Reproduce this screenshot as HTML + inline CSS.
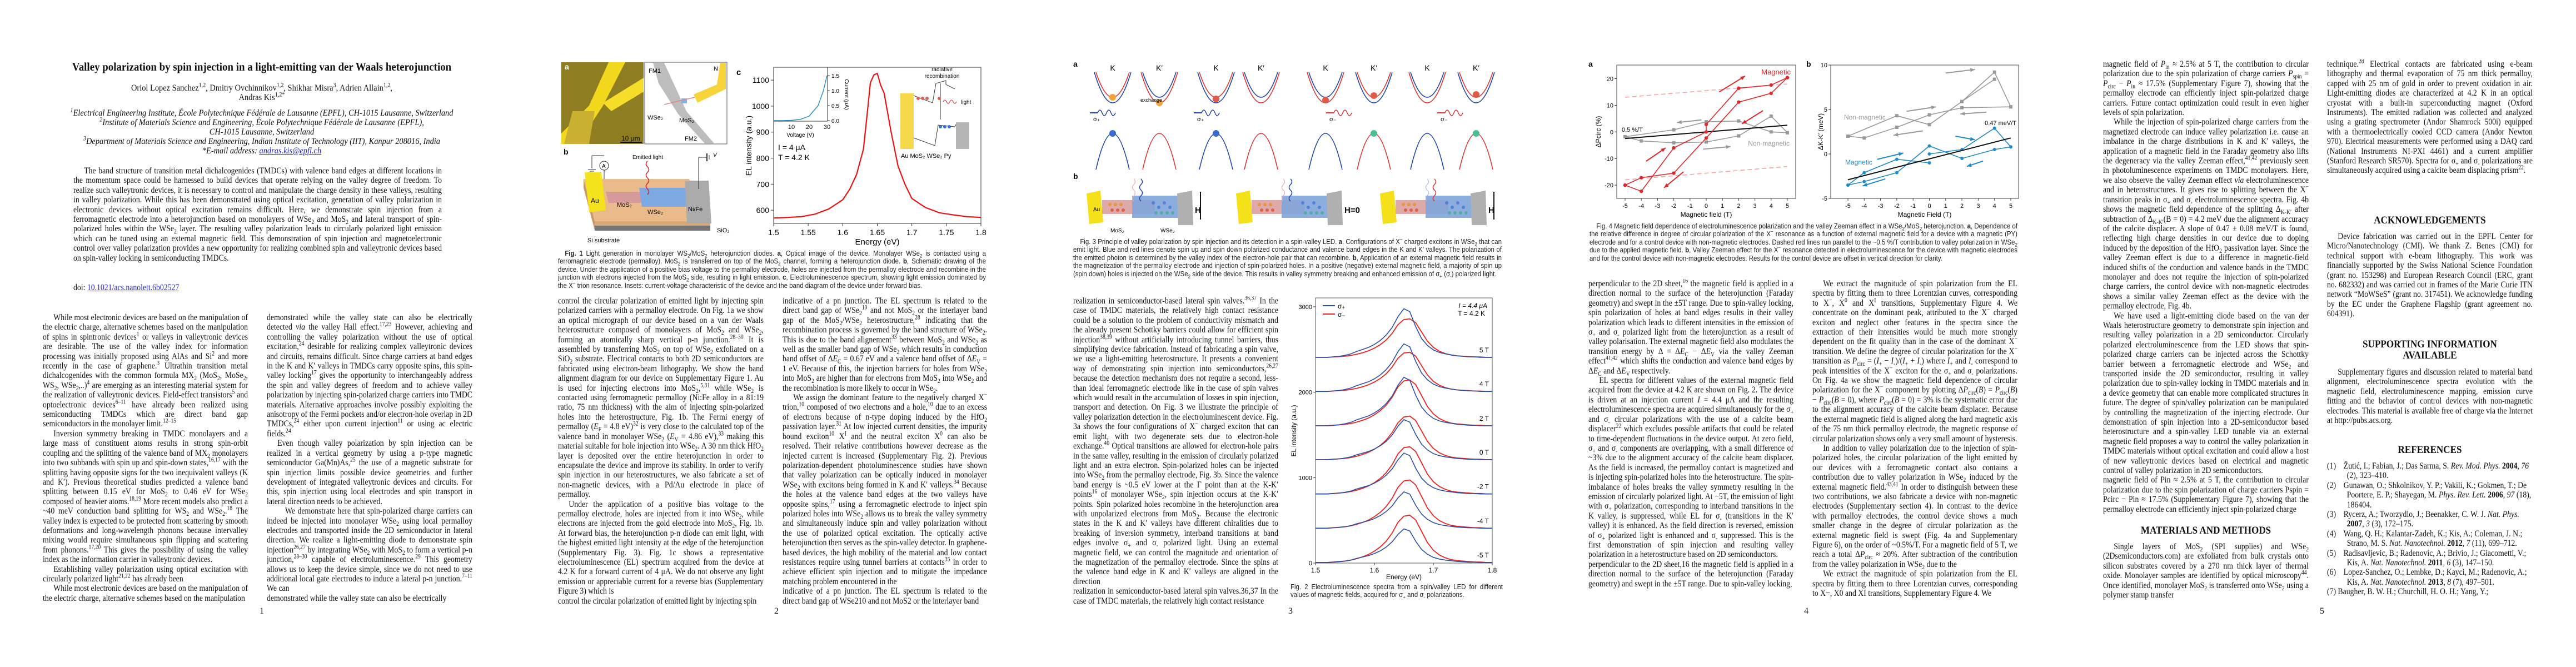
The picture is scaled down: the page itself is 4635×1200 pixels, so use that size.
<!DOCTYPE html>
<html><head><meta charset="utf-8">
<style>
html,body{margin:0;padding:0;background:#fff;overflow:hidden;}
#root{position:relative;width:4635px;height:1200px;overflow:hidden;background:#fff;color:#111;}
.col{position:absolute;overflow:hidden;}
.in{width:calc(100% / 0.86);transform:scaleX(0.86);transform-origin:0 0;font:16px/17.4px "Liberation Serif",serif;text-align:justify;}
.in p{margin:0;text-indent:1.4em;}
.in p.ni{text-indent:0;}
.cap{position:absolute;overflow:hidden;}
.cap .ci{width:calc(100% / 0.88);transform:scaleX(0.88);transform-origin:0 0;font:13px/14.4px "Liberation Sans",sans-serif;text-align:justify;color:#222;}
.t{position:absolute;white-space:nowrap;font-family:"Liberation Serif",serif;}
.c{transform:translateX(-50%) scaleX(0.9);transform-origin:50% 0;}
.h{font-weight:bold;font-size:19px;}
.pn{font-size:16px;}
sup,sub{font-size:70%;line-height:0;}
svg text{font-family:"Liberation Sans",sans-serif;}
</style></head>
<body>
<div id="root">

<!-- PAGE 1 -->
<div class="t c" style="left:471px;top:108px;font-size:21px;font-weight:bold;">Valley polarization by spin injection in a light-emitting van der Waals heterojunction</div>
<div class="t c" style="left:471px;top:150px;font-size:16px;">Oriol Lopez Sanchez<sup>1,2</sup>, Dmitry Ovchinnikov<sup>1,2</sup>, Shikhar Misra<sup>3</sup>, Adrien Allain<sup>1,2</sup>,</div>
<div class="t c" style="left:471px;top:167px;font-size:16px;">Andras Kis<sup>1,2*</sup></div>
<div class="t c" style="left:471px;top:195px;font-size:16px;font-style:italic;"><sup>1</sup>Electrical Engineering Institute, École Polytechnique Fédérale de Lausanne (EPFL), CH-1015 Lausanne, Switzerland</div>
<div class="t c" style="left:471px;top:212px;font-size:16px;font-style:italic;"><sup>2</sup>Institute of Materials Science and Engineering, École Polytechnique Fédérale de Lausanne (EPFL),</div>
<div class="t c" style="left:471px;top:229px;font-size:16px;font-style:italic;">CH-1015 Lausanne, Switzerland</div>
<div class="t c" style="left:471px;top:246px;font-size:16px;font-style:italic;"><sup>3</sup>Department of Materials Science and Engineering, Indian Institute of Technology (IIT), Kanpur 208016, India</div>
<div class="t c" style="left:471px;top:263px;font-size:16px;font-style:italic;">*E-mail address: <span style="color:#22c;text-decoration:underline">andras.kis@epfl.ch</span></div>

<div class="col" style="left:132px;top:299px;width:663px;height:193px"><div class="in"><p>The band structure of transition metal dichalcogenides (TMDCs) with valence band edges at different locations in the momentum space could be harnessed to build devices that operate relying on the valley degree of freedom. To realize such valleytronic devices, it is necessary to control and manipulate the charge density in these valleys, resulting in valley polarization. While this has been demonstrated using optical excitation, generation of valley polarization in electronic devices without optical excitation remains difficult. Here, we demonstrate spin injection from a ferromagnetic electrode into a heterojunction based on monolayers of WSe<sub>2</sub> and MoS<sub>2</sub> and lateral transport of spin-polarized holes within the WSe<sub>2</sub> layer. The resulting valley polarization leads to circularly polarized light emission which can be tuned using an external magnetic field. This demonstration of spin injection and magnetoelectronic control over valley polarization provides a new opportunity for realizing combined spin and valleytronic devices based on spin-valley locking in semiconducting TMDCs.</p></div></div>
<div class="t" style="left:132px;top:509px;font-size:16px;transform:scaleX(0.86);transform-origin:0 0;">doi: <span style="color:#22c;text-decoration:underline">10.1021/acs.nanolett.6b02527</span></div>

<div class="col fill" style="left:77px;top:563px;width:369px;height:522px"><div class="in"><p>While most electronic devices are based on the manipulation of the electric charge, alternative schemes based on the manipulation of spins in spintronic devices<sup>1</sup> or valleys in valleytronic devices are desirable. The use of the valley index for information processing was initially proposed using AlAs and Si<sup>2</sup> and more recently in the case of graphene.<sup>3</sup> Ultrathin transition metal dichalcogenides with the common formula MX<sub>2</sub> (MoS<sub>2</sub>, MoSe<sub>2</sub>, WS<sub>2</sub>, WSe<sub>2</sub>,..)<sup>4</sup> are emerging as an interesting material system for the realization of valleytronic devices. Field-effect transistors<sup>5</sup> and optoelectronic devices<sup>6–11</sup> have already been realized using semiconducting TMDCs which are direct band gap semiconductors in the monolayer limit.<sup>12–15</sup></p><p>Inversion symmetry breaking in TMDC monolayers and a large mass of constituent atoms results in strong spin-orbit coupling and the splitting of the valence band of MX<sub>2</sub> monolayers into two subbands with spin up and spin-down states,<sup>16,17</sup> with the splitting having opposite signs for the two inequivalent valleys (K and K′). Previous theoretical studies predicted a valence band splitting between 0.15 eV for MoS<sub>2</sub> to 0.46 eV for WSe<sub>2</sub> composed of heavier atoms.<sup>18,19</sup> More recent models also predict a ~40 meV conduction band splitting for WS<sub>2</sub> and WSe<sub>2</sub>.<sup>18</sup> The valley index is expected to be protected from scattering by smooth deformations and long-wavelength phonons because intervalley mixing would require simultaneous spin flipping and scattering from phonons.<sup>17,20</sup> This gives the possibility of using the valley index as the information carrier in valleytronic devices.</p><p>Establishing valley polarization using optical excitation with circularly polarized light<sup>21,22</sup> has already been</p></div></div>
<div class="col fill" style="left:480px;top:563px;width:370px;height:522px"><div class="in"><p class="ni">demonstrated while the valley state can also be electrically detected <i>via</i> the valley Hall effect.<sup>17,23</sup> However, achieving and controlling the valley polarization without the use of optical excitation,<sup>24</sup> desirable for realizing complex valleytronic devices and circuits, remains difficult. Since charge carriers at band edges in the K and K′ valleys in TMDCs carry opposite spins, this spin-valley locking<sup>17</sup> gives the opportunity to interchangeably address the spin and valley degrees of freedom and to achieve valley polarization by injecting spin-polarized charge carriers into TMDC materials. Alternative approaches involve possibly exploiting the anisotropy of the Fermi pockets and/or electron-hole overlap in 2D TMDCs,<sup>24</sup> either upon current injection<sup>11</sup> or using ac electric fields.<sup>24</sup></p><p>Even though valley polarization by spin injection can be realized in a vertical geometry by using a p-type magnetic semiconductor Ga(Mn)As,<sup>25</sup> the use of a magnetic substrate for spin injection limits possible device geometries and further development of integrated valleytronic devices and circuits. For this, spin injection using local electrodes and spin transport in lateral direction needs to be achieved.</p><p>&nbsp;&nbsp;&nbsp;We demonstrate here that spin-polarized charge carriers can indeed be injected into monolayer WSe<sub>2</sub> using local permalloy electrodes and transported inside the 2D semiconductor in lateral direction. We realize a light-emitting diode to demonstrate spin injection<sup>26,27</sup> by integrating WSe<sub>2</sub> with MoS<sub>2</sub> to form a vertical p-n junction,<sup>28–30</sup> capable of electroluminescence.<sup>29</sup> This geometry allows us to keep the device simple, since we do not need to use additional local gate electrodes to induce a lateral p-n junction.<sup>7–11</sup> We can</p></div></div>
<div class="t pn" style="left:467px;top:1091px;">1</div>

<!-- PAGE 2 -->
<div class="cap" style="left:1004px;top:449px;width:770px;height:73px"><div class="ci"><span style="padding-left:14px"></span><b>Fig. 1</b> Light generation in monolayer WS<sub>2</sub>/MoS<sub>2</sub> heterojunction diodes. <b>a</b>, Optical image of the device. Monolayer WSe<sub>2</sub> is contacted using a ferromagnetic electrode (permalloy). MoS<sub>2</sub> is transferred on top of the MoS<sub>2</sub> channel, forming a heterojunction diode. <b>b</b>, Schematic drawing of the device. Under the application of a positive bias voltage to the permalloy electrode, holes are injected from the permalloy electrode and recombine in the junction with electrons injected from the MoS<sub>2</sub> side, resulting in light emission. <b>c</b>, Electroluminescence spectrum, showing light emission dominated by the X<sup>−</sup> trion resonance. Insets: current-voltage characteristic of the device and the band diagram of the device under forward bias.</div></div>
<div class="col fill" style="left:1004px;top:533px;width:370px;height:557px"><div class="in"><p class="ni">control the circular polarization of emitted light by injecting spin polarized carriers with a permalloy electrode. On Fig. 1a we show an optical micrograph of our device based on a van der Waals heterostructure composed of monolayers of MoS<sub>2</sub> and WSe<sub>2</sub>, forming an atomically sharp vertical p-n junction.<sup>28–30</sup> It is assembled by transferring MoS<sub>2</sub> on top of WSe<sub>2</sub> exfoliated on a SiO<sub>2</sub> substrate. Electrical contacts to both 2D semiconductors are fabricated using electron-beam lithography. We show the band alignment diagram for our device on Supplementary Figure 1. Au is used for injecting electrons into MoS<sub>2</sub>,<sup>5,31</sup> while WSe<sub>2</sub> is contacted using ferromagnetic permalloy (Ni:Fe alloy in a 81:19 ratio, 75 nm thickness) with the aim of injecting spin-polarized holes into the heterostructure, Fig. 1b. The Fermi energy of permalloy (<i>E</i><sub>F</sub> = 4.8 eV)<sup>32</sup> is very close to the calculated top of the valence band in monolayer WSe<sub>2</sub> (<i>E</i><sub>V</sub> = 4.86 eV),<sup>33</sup> making this material suitable for hole injection into WSe<sub>2</sub>. A 30 nm thick HfO<sub>2</sub> layer is deposited over the entire heterojunction in order to encapsulate the device and improve its stability. In order to verify spin injection in our heterostructures, we also fabricate a set of non-magnetic devices, with a Pd/Au electrode in place of permalloy.</p><p>Under the application of a positive bias voltage to the permalloy electrode, holes are injected from it into WSe<sub>2</sub>, while electrons are injected from the gold electrode into MoS<sub>2</sub>, Fig. 1b. At forward bias, the heterojunction p-n diode can emit light, with the highest emitted light intensity at the edge of the heterojunction (Supplementary Fig. 3). Fig. 1c shows a representative electroluminescence (EL) spectrum acquired from the device at 4.2 K for a forward current of 4 μA. We do not observe any light emission or appreciable current for a reverse bias (Supplementary Figure 3) which is</p></div></div>
<div class="col fill" style="left:1408px;top:533px;width:368px;height:557px"><div class="in"><p class="ni">indicative of a pn junction. The EL spectrum is related to the direct band gap of WSe<sub>2</sub><sup>10</sup> and not MoS<sub>2</sub> or the interlayer band gap of the MoS<sub>2</sub>/WSe<sub>2</sub> heterostructure,<sup>28</sup> indicating that the recombination process is governed by the band structure of WSe<sub>2</sub>. This is due to the band alignement<sup>33</sup> between MoS<sub>2</sub> and WSe<sub>2</sub> as well as the smaller band gap of WSe<sub>2</sub> which results in conduction band offset of Δ<i>E</i><sub>C</sub> = 0.67 eV and a valence band offset of Δ<i>E</i><sub>V</sub> = 1 eV. Because of this, the injection barriers for holes from WSe<sub>2</sub> into MoS<sub>2</sub> are higher than for electrons from MoS<sub>2</sub> into WSe<sub>2</sub> and the recombination is more likely to occur in WSe<sub>2</sub>.</p><p>We assign the dominant feature to the negatively charged X<sup>−</sup> trion,<sup>10</sup> composed of two electrons and a hole,<sup>10</sup> due to an excess of electrons because of n-type doping induced by the HfO<sub>2</sub> passivation layer.<sup>31</sup> At low injected current densities, the impurity bound exciton<sup>10</sup> X<sup>I</sup> and the neutral exciton X<sup>0</sup> can also be resolved. Their relative contributions however decrease as the injected current is increased (Supplementary Fig. 2). Previous polarization-dependent photoluminescence studies have shown that valley polarization can be optically induced in monolayer WSe<sub>2</sub> with excitons being formed in K and K′ valleys.<sup>34</sup> Because the holes at the valence band edges at the two valleys have opposite spins,<sup>17</sup> using a ferromagnetic electrode to inject spin polarized holes into WSe<sub>2</sub> allows us to break the valley symmetry and simultaneously induce spin and valley polarization without the use of polarized optical excitation. The optically active heterojunction then serves as the spin-valley detector. In graphene-based devices, the high mobility of the material and low contact resistances require using tunnel barriers at contacts<sup>35</sup> in order to achieve efficient spin injection and to mitigate the impedance matching problem encountered in the</p></div></div>
<div class="t pn" style="left:1393px;top:1091px;">2</div>

<!-- PAGE 3 -->
<div class="cap" style="left:1931px;top:428px;width:771px;height:88px"><div class="ci"><span style="padding-left:14px"></span>Fig. 3 Principle of valley polarization by spin injection and its detection in a spin-valley LED. <b>a</b>, Configurations of X<sup>−</sup> charged excitons in WSe<sub>2</sub> that can emit light. Blue and red lines denote spin up and spin down polarized conductance and valence band edges in the K and K′ valleys. The polarization of the emitted photon is determined by the valley index of the electron-hole pair that can recombine. <b>b</b>, Application of an external magnetic field results in the magnetization of the permalloy electrode and injection of spin-polarized holes. In a positive (negative) external magnetic field, a majority of spin up (spin down) holes is injected on the WSe<sub>2</sub> side of the device. This results in valley symmetry breaking and enhanced emission of σ<sub>+</sub> (σ<sub>-</sub>) polarized light.</div></div>
<div class="col fill" style="left:1931px;top:533px;width:369px;height:557px"><div class="in"><p class="ni">realization in semiconductor-based lateral spin valves.<sup>36,37</sup> In the case of TMDC materials, the relatively high contact resistance could be a solution to the problem of conductivity mismatch and the already present Schottky barriers could allow for efficient spin injection<sup>38,39</sup> without artificially introducing tunnel barriers, thus simplifying device fabrication. Instead of fabricating a spin valve, we use a light-emitting heterostructure. It presents a convenient way of demonstrating spin injection into semiconductors,<sup>26,27</sup> because the detection mechanism does not require a second, less-than ideal ferromagnetic electrode like in the case of spin valves which would result in the accumulation of losses in spin injection, transport and detection. On Fig. 3 we illustrate the principle of valley polarization detection in the electroluminescent device. Fig. 3a shows the four configurations of X<sup>−</sup> charged exciton that can emit light, with two degenerate sets due to electron-hole exchange.<sup>40</sup> Optical transitions are allowed for electron-hole pairs in the same valley, resulting in the emission of circularly polarized light and an extra electron. Spin-polarized holes can be injected into WSe<sub>2</sub> from the permalloy electrode, Fig. 3b. Since the valence band energy is ~0.5 eV lower at the Γ point than at the K-K′ points<sup>16</sup> of monolayer WSe<sub>2</sub>, spin injection occurs at the K-K′ points. Spin polarized holes recombine in the heterojunction area with unpolarized electrons from MoS<sub>2</sub>. Because the electronic states in the K and K′ valleys have different chiralities due to breaking of inversion symmetry, interband transitions at band edges involve σ<sub>+</sub> and σ<sub>-</sub> polarized light. Using an external magnetic field, we can control the magnitude and orientation of the magnetization of the permalloy electrode. Since the spins at the valence band edge in K and K′ valleys are aligned in the direction</p></div></div>
<div class="cap" style="left:2322px;top:1049px;width:382px;height:30px"><div class="ci">Fig. 2 Electroluminescence spectra from a spin/valley LED for different values of magnetic fields, acquired for σ<sub>+</sub> and σ<sub>-</sub> polarizations.</div></div>
<div class="t pn" style="left:2318px;top:1091px;">3</div>

<!-- PAGE 4 -->
<div class="cap" style="left:2860px;top:400px;width:770px;height:88px"><div class="ci"><span style="padding-left:14px"></span>Fig. 4 Magnetic field dependence of electroluminescence polarization and the valley Zeeman effect in a WSe<sub>2</sub>/MoS<sub>2</sub> heterojunction. <b>a</b>, Dependence of the relative difference in degree of circular polarization of the X<sup>−</sup> resonance as a function of external magnetic field for a device with a magnetic (PY) electrode and for a control device with non-magnetic electrodes. Dashed red lines run parallel to the ~0.5 %/T contribution to valley polarization in WSe<sub>2</sub> due to the applied magnetic field. <b>b</b>, Valley Zeeman effect for the X<sup>−</sup> resonance detected in electroluminescence for the device with magnetic electrodes and for the control device with non-magnetic electrodes. Results for the control device are offset in vertical direction for clarity.</div></div>
<div class="col fill" style="left:2858px;top:502px;width:369px;height:557px"><div class="in"><p class="ni">perpendicular to the 2D sheet,<sup>16</sup> the magnetic field is applied in a direction normal to the surface of the heterojunction (Faraday geometry) and swept in the ±5T range. Due to spin-valley locking, spin polarization of holes at band edges results in their valley polarization which leads to different intensities in the emission of σ<sub>+</sub> and σ<sub>-</sub> polarized light from the heterojunction as a result of valley polarisation. The external magnetic field also modulates the transition energy by Δ = Δ<i>E</i><sub>C</sub> − Δ<i>E</i><sub>V</sub> via the valley Zeeman effect<sup>41,42</sup> which shifts the conduction and valence band edges by Δ<i>E</i><sub>C</sub> and Δ<i>E</i><sub>V</sub> respectively.</p><p>EL spectra for different values of the external magnetic field acquired from the device at 4.2 K are shown on Fig. 2. The device is driven at an injection current <i>I</i> = 4.4 μA and the resulting electroluminescence spectra are acquired simultaneously for the σ<sub>+</sub> and σ<sub>-</sub> circular polarizations with the use of a calcite beam displacer<sup>22</sup> which excludes possible artifacts that could be related to time-dependent fluctuations in the device output. At zero field, σ<sub>+</sub> and σ<sub>-</sub> components are overlapping, with a small difference of ~3% due to the alignment accuracy of the calcite beam displacer. As the field is increased, the permalloy contact is magnetized and is injecting spin-polarized holes into the heterostructure. The spin-imbalance of holes breaks the valley symmetry resulting in the emission of circularly polarized light. At −5T, the emission of light with σ<sub>+</sub> polarization, corresponding to interband transitions in the K valley, is suppressed, while EL for σ<sub>-</sub> (transitions in the K′ valley) it is enhanced. As the field direction is reversed, emission of σ<sub>+</sub> polarized light is enhanced and σ<sub>-</sub> suppressed. This is the first demonstration of spin injection and resulting valley polarization in a heterostructure based on 2D semiconductors.</p></div></div>
<div class="col fill" style="left:3261px;top:502px;width:369px;height:574px"><div class="in"><p>We extract the magnitude of spin polarization from the EL spectra by fitting them to three Lorentzian curves, corresponding to X<sup>−</sup>, X<sup>0</sup> and X<sup>I</sup> transitions, Supplementary Figure 4. We concentrate on the dominant peak, attributed to the X<sup>−</sup> charged exciton and neglect other features in the spectra since the extraction of their intensities would be much more strongly dependent on the fit quality than in the case of the dominant X<sup>−</sup> transition. We define the degree of circular polarization for the X<sup>−</sup> transition as <i>P</i><sub>circ</sub> = (<i>I</i><sub>+</sub> − <i>I</i><sub>-</sub>)/(<i>I</i><sub>+</sub> + <i>I</i><sub>-</sub>) where <i>I</i><sub>+</sub> and <i>I</i><sub>-</sub> correspond to peak intensities of the X<sup>−</sup> exciton for the σ<sub>+</sub> and σ<sub>-</sub> polarizations. On Fig. 4a we show the magnetic field dependence of circular polarization for the X<sup>−</sup> component by plotting Δ<i>P</i><sub>circ</sub>(<i>B</i>) = <i>P</i><sub>circ</sub>(<i>B</i>) − <i>P</i><sub>circ</sub>(<i>B</i> = 0), where <i>P</i><sub>circ</sub>(<i>B</i> = 0) = 3% is the systematic error due to the alignment accuracy of the calcite beam displacer. Because the external magnetic field is aligned along the hard magnetic axis of the 75 nm thick permalloy electrode, the magnetic response of circular polarization shows only a very small amount of hysteresis.</p><p>In addition to valley polarization due to the injection of spin-polarized holes, the circular polarization of the light emitted by our devices with a ferromagnetic contact also contains a contribution due to valley polarization in WSe<sub>2</sub> induced by the external magnetic field.<sup>43,41</sup> In order to distinguish between these two contributions, we also fabricate a device with non-magnetic electrodes (Supplementary section 4). In contrast to the device with permalloy electrodes, the control device shows a much smaller change in the degree of circular polarization as the external magnetic field is swept (Fig. 4a and Supplementary Figure 6), on the order of ~0.5%/T. For a magnetic field of 5 T, we reach a total Δ<i>P</i><sub>circ</sub> ≈ 20%. After subtraction of the contribution from the valley polarization in WSe<sub>2</sub> due to the</p></div></div>
<div class="t pn" style="left:3246px;top:1091px;">4</div>

<!-- PAGE 5 -->
<div class="col fill" style="left:3784px;top:107px;width:370px;height:818px"><div class="in"><p class="ni">magnetic field of <i>P</i><sub>in</sub> ≈ 2.5% at 5 T, the contribution to circular polarization due to the spin polarization of charge carriers <i>P</i><sub>spin</sub> = <i>P</i><sub>circ</sub> − <i>P</i><sub>in</sub> ≈ 17.5% (Supplementary Figure 7), showing that the permalloy electrode can efficiently inject spin-polarized charge carriers. Future contact optimization could result in even higher levels of spin polarization.</p><p>While the injection of spin-polarized charge carriers from the magnetized electrode can induce valley polarization i.e. cause an imbalance in the charge distributions in K and K′ valleys, the application of a magnetic field in the Faraday geometry also lifts the degeneracy via the valley Zeeman effect,<sup>41,42</sup> previously seen in photoluminescence experiments on TMDC monolayers. Here, we also observe the valley Zeeman effect <i>via</i> electroluminescence and in heterostructures. It gives rise to splitting between the X<sup>−</sup> transition peaks in σ<sub>+</sub> and σ<sub>-</sub> electroluminescence spectra. Fig. 4b shows the magnetic field dependence of the splitting Δ<sub>K-K′</sub> after subtraction of Δ<sub>K-K′</sub>(B = 0) = 4.2 meV due the alignment accuracy of the calcite displacer. A slope of 0.47 ± 0.08 meV/T is found, reflecting high charge densities in our device due to doping induced by the deposition of the HfO<sub>2</sub> passivation layer. Since the valley Zeeman effect is due to a difference in magnetic-field induced shifts of the conduction and valence bands in the TMDC monolayer and does not require the injection of spin-polarized charge carriers, the control device with non-magnetic electrodes shows a similar valley Zeeman effect as the device with the permalloy electrode, Fig. 4b.</p><p>We have used a light-emitting diode based on the van der Waals heterostructure geometry to demonstrate spin injection and resulting valley polarization in a 2D semiconductor. Circularly polarized electroluminescence from the LED shows that spin-polarized charge carriers can be injected across the Schottky barrier between a ferromagnetic electrode and WSe<sub>2</sub> and transported inside the 2D semiconductor, resulting in valley polarization due to spin-valley locking in TMDC materials and in a device geometry that can enable more complicated structures in future. The degree of spin/valley polarization can be manipulated by controlling the magnetization of the injecting electrode. Our demonstration of spin injection into a 2D-semiconductor based heterostructure and a spin-valley LED tunable via an external magnetic field proposes a way to control the valley polarization in TMDC materials without optical excitation and could allow a host of new valleytronic devices based on electrical and magnetic control of valley polarization in 2D semiconductors.</p></div></div>
<div class="t c h" style="left:3969px;top:944px;">MATERIALS AND METHODS</div>
<div class="col trim" style="left:3784px;top:975px;width:370px;height:105px"><div class="in"><p>Single layers of MoS<sub>2</sub> (SPI supplies) and WSe<sub>2</sub> (2Dsemiconductors.com) are exfoliated from bulk crystals onto silicon substrates covered by a 270 nm thick layer of thermal oxide. Monolayer samples are identified by optical microscopy<sup>44</sup>. Once identified, monolayer MoS<sub>2</sub> is transferred onto WSe<sub>2</sub> using a polymer stamp transfer</p></div></div>
<div class="col trim" style="left:4187px;top:107px;width:370px;height:245px"><div class="in"><p class="ni">technique.<sup>28</sup> Electrical contacts are fabricated using e-beam lithography and thermal evaporation of 75 nm thick permalloy, capped with 25 nm of gold in order to prevent oxidation in air. Light-emitting diodes are characterized at 4.2 K in an optical cryostat with a built-in superconducting magnet (Oxford Instruments). The emitted radiation was collected and analyzed using a grating spectrometer (Andor Shamrock 500i) equipped with a thermoelectrically cooled CCD camera (Andor Newton 970). Electrical measurements were performed using a DAQ card (National Instruments NI-PXI 4461) and a current amplifier (Stanford Research SR570). Spectra for σ<sub>+</sub> and σ<sub>-</sub> polarizations are simultaneously acquired using a calcite beam displacing prism<sup>22</sup>.</p></div></div>
<div class="t c h" style="left:4372px;top:386px;">ACKNOWLEDGEMENTS</div>
<div class="col trim" style="left:4187px;top:417px;width:370px;height:158px"><div class="in"><p>Device fabrication was carried out in the EPFL Center for Micro/Nanotechnology (CMI). We thank Z. Benes (CMI) for technical support with e-beam lithography. This work was financially supported by the Swiss National Science Foundation (grant no. 153298) and European Research Council (ERC, grant no. 682332) and was carried out in frames of the Marie Curie ITN network “MoWSeS” (grant no. 317451). We acknowledge funding by the EC under the Graphene Flagship (grant agreement no. 604391).</p></div></div>
<div class="t c h" style="left:4372px;top:609px;">SUPPORTING INFORMATION</div>
<div class="t c h" style="left:4372px;top:629px;">AVAILABLE</div>
<div class="col trim" style="left:4187px;top:661px;width:370px;height:105px"><div class="in"><p>Supplementary figures and discussion related to material band alignment, electroluminescence spectra evolution with the magnetic field, electroluminescence mapping, emission curve fitting and the behavior of control devices with non-magnetic electrodes. This material is available free of charge via the Internet at http://pubs.acs.org.</p></div></div>
<div class="t c h" style="left:4372px;top:799px;">REFERENCES</div>
<div class="col trim" style="left:4187px;top:830px;width:370px;height:245px"><div class="in" style="text-align:left">
<p class="ni" style="padding-left:2.6em;text-indent:-2.6em">(1)&nbsp;&nbsp;&nbsp;&nbsp;Žutić, I.; Fabian, J.; Das Sarma, S. <i>Rev. Mod. Phys.</i> <b>2004</b>, <i>76</i> (2), 323–410.</p>
<p class="ni" style="padding-left:2.6em;text-indent:-2.6em">(2)&nbsp;&nbsp;&nbsp;&nbsp;Gunawan, O.; Shkolnikov, Y. P.; Vakili, K.; Gokmen, T.; De Poortere, E. P.; Shayegan, M. <i>Phys. Rev. Lett.</i> <b>2006</b>, <i>97</i> (18), 186404.</p>
<p class="ni" style="padding-left:2.6em;text-indent:-2.6em">(3)&nbsp;&nbsp;&nbsp;&nbsp;Rycerz, A.; Tworzydlo, J.; Beenakker, C. W. J. <i>Nat. Phys.</i> <b>2007</b>, <i>3</i> (3), 172–175.</p>
<p class="ni" style="padding-left:2.6em;text-indent:-2.6em">(4)&nbsp;&nbsp;&nbsp;&nbsp;Wang, Q. H.; Kalantar-Zadeh, K.; Kis, A.; Coleman, J. N.; Strano, M. S. <i>Nat. Nanotechnol.</i> <b>2012</b>, <i>7</i> (11), 699–712.</p>
<p class="ni" style="padding-left:2.6em;text-indent:-2.6em">(5)&nbsp;&nbsp;&nbsp;&nbsp;Radisavljevic, B.; Radenovic, A.; Brivio, J.; Giacometti, V.; Kis, A. <i>Nat. Nanotechnol.</i> <b>2011</b>, <i>6</i> (3), 147–150.</p>
<p class="ni" style="padding-left:2.6em;text-indent:-2.6em">(6)&nbsp;&nbsp;&nbsp;&nbsp;Lopez-Sanchez, O.; Lembke, D.; Kayci, M.; Radenovic, A.; Kis, A. <i>Nat. Nanotechnol.</i> <b>2013</b>, <i>8</i> (7), 497–501.</p>
<p class="ni" style="padding-left:2.6em;text-indent:-2.6em">(7)&nbsp;&nbsp;&nbsp;&nbsp;Baugher, B. W. H.; Churchill, H. O. H.; Yang, Y.; Jarillo-Herrero, P. <i>Nat. Nanotechnol.</i> <b>2014</b>, <i>9</i> (4), 262–267.</p>
</div></div>
<div class="t pn" style="left:4174px;top:1091px;">5</div>

<svg id="figs" width="4635" height="1200" style="position:absolute;left:0;top:0">
<g>
<rect x="1010" y="112" width="148" height="147" fill="#8f7d22"/>
<polygon points="1095,112 1125,112 1085,190 1040,259 1010,259 1010,240 1060,190" fill="#f2d81c"/>
<polygon points="1085,185 1158,140 1158,165 1100,200" fill="#f5dd2a"/>
<polygon points="1030,200 1070,200 1060,259 1015,259" fill="#c9b030"/>
<text x="1016" y="125" font-size="14" font-weight="bold" fill="#fff">a</text>
<text x="1118" y="253" font-size="12" fill="#111">10 μm</text>
<line x1="1116" y1="256" x2="1155" y2="256" stroke="#111" stroke-width="2"/>
</g>
<g>
<rect x="1160" y="112" width="148" height="147" fill="#fff" stroke="#555"/>
<polygon points="1175,113 1195,113 1235,200 1285,258 1268,258 1220,205 1185,150" fill="#bdbdbd"/>
<polygon points="1248,170 1290,152 1296,113 1306,113 1306,160 1255,185" fill="#f7d43a"/>
<rect x="1226" y="177" width="10" height="9" fill="#7fb4ea"/>
<line x1="1195" y1="188" x2="1250" y2="175" stroke="#d88" stroke-width="1.5"/>
<text x="1167" y="131" font-size="11">FM1</text>
<text x="1284" y="127" font-size="11">N</text>
<text x="1165" y="215" font-size="11">WSe₂</text>
<text x="1222" y="220" font-size="11">MoS₂</text>
<text x="1232" y="253" font-size="11">FM2</text>
</g>
<g>
<text x="1014" y="278" font-size="14" font-weight="bold">b</text>
<text x="1138" y="286" font-size="10">Emitted light</text>
<line x1="1065" y1="280" x2="1087" y2="280" stroke="#333"/><line x1="1065" y1="280" x2="1065" y2="303" stroke="#333"/>
<line x1="1058" y1="305" x2="1072" y2="305" stroke="#333"/><line x1="1061" y1="308" x2="1069" y2="308" stroke="#333"/>
<circle cx="1087" cy="298" r="8" fill="#fff" stroke="#333"/><text x="1083" y="302" font-size="10">A</text>
<line x1="1087" y1="306" x2="1087" y2="325" stroke="#333"/>
<polygon points="1050,322 1240,322 1278,398 1070,398" fill="#e9bb8b"/>
<polygon points="1050,322 1070,398 1070,414 1050,338" fill="#c89a6a"/>
<rect x="1070" y="398" width="208" height="8" fill="#d9a877"/>
<rect x="1070" y="406" width="208" height="9" fill="#777"/>
<polygon points="1090,345 1200,345 1205,365 1095,365" fill="#d69a9a"/>
<polygon points="1150,338 1235,338 1240,372 1155,372" fill="#7ea8e2"/>
<polygon points="1052,310 1082,310 1090,378 1060,382" fill="#f3e21c"/>
<polygon points="1232,325 1275,325 1280,402 1236,402" fill="#ababab"/>
<text x="1063" y="365" font-size="12">Au</text>
<text x="1110" y="372" font-size="11">MoS₂</text>
<text x="1165" y="385" font-size="11">WSe₂</text>
<text x="1238" y="380" font-size="11">Ni/Fe</text>
<text x="1290" y="418" font-size="11">SiO₂</text>
<text x="1057" y="436" font-size="11">Si substrate</text>
<path d="M1165,350 q5,-5 0,-10 q-5,-5 0,-10 q5,-5 0,-10 q-5,-5 0,-10 q5,-5 0,-10 q-5,-5 0,-10" fill="none" stroke="#c22" stroke-width="1.5"/>
<line x1="1257" y1="340" x2="1257" y2="283" stroke="#333"/><line x1="1257" y1="283" x2="1272" y2="283" stroke="#333"/>
<line x1="1272" y1="276" x2="1272" y2="290" stroke="#333" stroke-width="2"/><line x1="1276" y1="279" x2="1276" y2="287" stroke="#333"/>
<text x="1283" y="282" font-size="10" font-style="italic">V</text>
</g>
</svg>

</div>
<script>
// ---------- chart data ----------
const f1cEnergy=[1.50,1.52,1.54,1.56,1.58,1.60,1.61,1.62,1.63,1.635,1.64,1.645,1.65,1.655,1.66,1.67,1.68,1.69,1.70,1.72,1.74,1.76,1.78,1.80];
const f1cIntensity=[570,572,575,585,605,640,680,737,835,960,1090,1120,1126,1080,1049,900,770,700,645,610,590,582,575,572];
const f1cYTicks=[600,700,800,900,1000,1100];
const f1cXTicks=[1.5,1.55,1.6,1.65,1.7,1.75,1.8];
const f1cInsetVoltage=[0,5,10,15,20,25,28,30];
const f1cInsetCurrent=[0,0,0.01,0.04,0.15,0.5,1.0,1.5];
const f1cInsetVTicks=[10,20,30];
const f1cInsetITicks=[0,0.5,1.0,1.5];

const f2Fields=['5 T','4 T','2 T','0 T','-2 T','-4 T','-5 T'];
const f2Offsets=[2408,2009,1607,1210,809,408,7];
const f2PeakPlus=[581,568,579,478,488,434,401];
const f2PeakMinus=[451,459,536,510,553,564,553];
const f2Energy=[1.50,1.51,1.52,1.53,1.54,1.55,1.56,1.57,1.58,1.59,1.60,1.61,1.62,1.63,1.64,1.65,1.66,1.67,1.68,1.69,1.70,1.71,1.72,1.73,1.74,1.75,1.76,1.77,1.78,1.79,1.80];
const f2ProfilePlus=[0,0,0,0.01,0.02,0.04,0.07,0.12,0.16,0.2,0.26,0.34,0.45,0.6,0.82,0.98,0.92,0.62,0.38,0.24,0.15,0.1,0.07,0.05,0.03,0.02,0.01,0.01,0,0,0];
const f2ProfileMinus=[0,0,0,0.01,0.02,0.03,0.05,0.08,0.12,0.17,0.24,0.33,0.45,0.62,0.85,0.98,1.0,0.9,0.66,0.42,0.26,0.16,0.1,0.06,0.04,0.03,0.02,0.01,0.01,0,0];
const f2YTicks=[0,1000,2000,3000];
const f2XTicks=[1.5,1.6,1.7,1.8];

const f4aMagUpField=[-5,-4,-2,0,2,4,5];
const f4aMagUp=[-20,-17.2,-15.5,-2.3,11.2,14.5,20.4];
const f4aMagDownField=[5,4,2,0,0,-2,-4,-5];
const f4aMagDown=[20.4,17.6,16.4,2.8,0,-6,-22.3,-20];
const f4aNonUpField=[-5,-4,-2,0,2,4,5];
const f4aNonUp=[-1.8,-3.4,-4.1,-3.8,-1.5,5.9,-0.3];
const f4aNonDownField=[5,4,2,0,-2,-5];
const f4aNonDown=[-0.3,0,4.1,3.8,0.8,-1.8];
const f4aFitField=[-5,5];
const f4aFit=[-2.5,2.5];
const f4aDashUpper=[13,18];
const f4aDashLower=[-18,-13];
const f4aYTicks=[-20,-10,0,10,20];
const f4aXTicks=[-5,-4,-3,-2,-1,0,1,2,3,4,5];

const f4bNonAField=[-5,-2,0,2,4,5];
const f4bNonA=[2.0,4.3,3.3,5.9,9.2,5.3];
const f4bNonBField=[5,2,0,-2,-4,-5];
const f4bNonB=[5.3,5.2,4.4,3.0,1.8,2.0];
const f4bNonCField=[2,4];
const f4bNonC=[5.9,8.4];
const f4bMagAField=[-5,-4,-2,0];
const f4bMagA=[-3.5,-2.1,-0.6,-1.0];
const f4bMagBField=[0,2,4,5];
const f4bMagB=[0.0,0.5,2.9,0.8];
const f4bMagCField=[5,4,2,0,-2,-4,-5];
const f4bMagC=[0.8,0.5,-0.5,0.9,-2.1,-3.1,-3.5];
const f4bFitField=[-5,5];
const f4bFit=[-2.9,1.8];
const f4bYTicks=[-5,0,5,10];
const f4bXTicks=[-5,-4,-3,-2,-1,0,1,2,3,4,5];

// ---------- fill text columns, then trim so nothing extends past the column box ----------
document.querySelectorAll('.col.fill').forEach(col=>{
 const inner=col.querySelector('.in');
 const src=inner.innerHTML;
 let guard=0;
 while(inner.getBoundingClientRect().height<col.clientHeight+20 && guard<4){inner.insertAdjacentHTML('beforeend',src);guard++;}
});
document.querySelectorAll('.col').forEach(col=>{
 const inner=col.querySelector('.in');
 const bottom=col.getBoundingClientRect().bottom;
 Array.from(inner.children).forEach(p=>{ if(p.getBoundingClientRect().top>=bottom-2) p.remove(); });
 const last=inner.lastElementChild;
 if(last && last.getBoundingClientRect().bottom>bottom+0.5){
  const words=last.textContent.split(/\s+/);
  let lo=0,hi=words.length;
  while(lo<hi){const mid=Math.ceil((lo+hi)/2);last.textContent=words.slice(0,mid).join(' ');
   if(last.getBoundingClientRect().bottom<=bottom+0.5) lo=mid; else hi=mid-1;}
  last.textContent=words.slice(0,lo).join(' ');
  if(lo===0) last.remove();
 }
});

// ---------- helpers ----------
const NS='http://www.w3.org/2000/svg';
const svg=document.getElementById('figs');
function mk(tag,attrs,parent){const e=document.createElementNS(NS,tag);for(const k in attrs)e.setAttribute(k,attrs[k]);(parent||svg).appendChild(e);return e;}
function tx(x,y,s,attrs,parent){const e=mk('text',Object.assign({x:x,y:y},attrs||{}),parent);e.textContent=s;return e;}
function ptsOf(xs,ys,fx,fy){return xs.map((v,i)=>fx(v).toFixed(1)+','+fy(ys[i]).toFixed(1)).join(' ');}

// ---------- Figure 1c ----------
(function(){
const g=mk('g',{});


const X0=1392,X1=1765,Y0=121,Y1=402;
const fx=e=>X0+(e-1.5)/0.3*(X1-X0);
const fy=v=>Y1-(v-549)*0.468;
tx(1325,135,'c',{'font-size':15,'font-weight':'bold'},g);
const ax=mk('rect',{x:X0,y:Y0,width:X1-X0,height:Y1-Y0,fill:'none',stroke:'#333','stroke-width':1},g);


f1cYTicks.forEach(v=>{
 mk('line',{x1:X0-5,y1:fy(v),x2:X0,y2:fy(v),stroke:'#333'},g);
 const t=tx(X0-8,fy(v)+5,String(v),{'font-size':14,'text-anchor':'end'},g);
 
 
});
f1cXTicks.forEach(v=>{
 mk('line',{x1:fx(v),y1:Y1,x2:fx(v),y2:Y1+5,stroke:'#333'},g);
 const t=tx(fx(v),Y1+21,String(v),{'font-size':14,'text-anchor':'middle'},g);
 
 
});
const xl=tx((X0+X1)/2,440,'Energy (eV)',{'font-size':15,'text-anchor':'middle'},g);


const yl=tx(0,0,'EL intensity (a.u.)',{'font-size':14,'text-anchor':'middle',transform:'translate(1352,262) rotate(-90)'},g);


const line=mk('polyline',{points:ptsOf(f1cEnergy,f1cIntensity,fx,fy),fill:'none',stroke:'#e11','stroke-width':2.2,'stroke-linejoin':'round'},g);


tx(1400,270,'I = 4 μA',{'font-size':14},g);
tx(1400,288,'T = 4.2 K',{'font-size':14},g);
const ix=v=>X0+v*3.2, iy=c=>217-c*54;
mk('line',{x1:1489,y1:Y0,x2:1489,y2:218,stroke:'#333'},g);
mk('line',{x1:X0,y1:218,x2:1489,y2:218,stroke:'#333'},g);
f1cInsetVTicks.forEach(v=>{tx(ix(v),232,String(v),{'font-size':11,'text-anchor':'middle'},g);});
f1cInsetITicks.forEach(c=>{mk('line',{x1:1489,y1:iy(c),x2:1493,y2:iy(c),stroke:'#333'},g);tx(1496,iy(c)+4,c.toFixed(1),{'font-size':10},g);});
tx(1440,246,'Voltage (V)',{'font-size':10,'text-anchor':'middle'},g);
tx(0,0,'Current (μA)',{'font-size':10,'text-anchor':'middle',transform:'translate(1520,170) rotate(90)'},g);
const iv=mk('polyline',{points:ptsOf(f1cInsetVoltage,f1cInsetCurrent,ix,iy),fill:'none',stroke:'#2a8fc4','stroke-width':1.5},g);


mk('rect',{x:1620,y:168,width:24,height:100,fill:'#f7d84a'},g);
mk('rect',{x:1720,y:220,width:24,height:48,fill:'#b5b5b5'},g);
mk('polyline',{points:'1644,172 1678,185 1684,150 1702,145 1702,152 1718,160',fill:'none',stroke:'#333'},g);
mk('polyline',{points:'1644,248 1682,262 1688,225 1718,228 1720,224',fill:'none',stroke:'#333'},g);
mk('line',{x1:1692,y1:150,x2:1692,y2:215,stroke:'#333'},g);
[1652,1660,1668,1690].forEach(x=>mk('circle',{cx:x,cy:177,r:3,fill:'#e06050'},g));
[1692,1700,1708].forEach(x=>mk('circle',{cx:x,cy:228,r:3,fill:'#3a70d0'},g));
mk('path',{d:'M1697,183 q3,-6 6,0 q3,6 6,0 q3,-6 6,0 q3,6 6,0',fill:'none',stroke:'#c22'},g);
tx(1729,187,'light',{'font-size':10},g);
tx(1695,128,'radiative',{'font-size':10,'text-anchor':'middle'},g);
tx(1695,140,'recombination',{'font-size':10,'text-anchor':'middle'},g);
tx(1621,284,'Au  MoS₂   WSe₂  Py',{'font-size':11},g);
})();

// ---------- Figure 3 ----------
(function(){
const g=mk('g',{});


tx(1931,120,'a',{'font-size':14,'font-weight':'bold'},g);
tx(1931,322,'b',{'font-size':14,'font-weight':'bold'},g);
const xs=[2002,2086,2188,2269,2385,2472,2568,2656];
xs.forEach((cx,i)=>{
 const lab=tx(cx,127,i%2?'K′':'K',{'font-size':14,'text-anchor':'middle'},g);
 
 
 const cfg=Math.floor(i/2);
 const outer=(cfg<2)?(i%2?'#d33':'#2244aa'):(i%2?'#2244aa':'#d33');
 const inner=outer==='#d33'?'#2244aa':'#d33';
 mk('path',{d:`M${cx-33},130 Q${cx},${2*185-130} ${cx+33},130`,fill:'none',stroke:outer,'stroke-width':1.6},g);
 mk('path',{d:`M${cx-30},130 Q${cx},${2*175-130} ${cx+30},130`,fill:'none',stroke:inner,'stroke-width':1.6},g);
 mk('path',{d:`M${cx-30},305 Q${cx},${2*240-305} ${cx+30},305`,fill:'none',stroke:i%2?'#d33':'#2244aa','stroke-width':1.6},g);
});
[[2002,'#f2a33a',175],[2086,'#f2a33a',185],[2188,'#e05a4a',178],[2385,'#e05a4a',180],[2472,'#e05a4a',172],[2656,'#e05a4a',170]].forEach(p=>mk('circle',{cx:p[0],cy:p[2],r:6,fill:p[1]},g));
[[2002,'#3a6ad0'],[2188,'#3a6ad0'],[2472,'#4ac090'],[2656,'#4ac090']].forEach(p=>mk('circle',{cx:p[0],cy:240,r:6,fill:p[1]},g));
[[1975,'#2244aa','σ₊'],[2162,'#2244aa','σ₊'],[2400,'#d33','σ₋'],[2600,'#d33','σ₋']].forEach(p=>{
 mk('path',{d:`M${p[0]},203 q4,-10 8,0 q4,10 8,0 q4,-10 8,0 q4,10 8,0`,fill:'none',stroke:p[1],'stroke-width':1.5},g);
 mk('line',{x1:p[0],y1:203,x2:p[0]-14,y2:203,stroke:p[1],'stroke-width':2},g);
 tx(p[0]-8,218,p[2],{'font-size':11},g);
});
tx(2052,183,'exchange',{'font-size':9},g);
const devX=[1955,2224,2483];
const hLab=['H','H=0','H'];
devX.forEach((x0,i)=>{
 const d=mk('g',{},g);
 
 
 mk('polygon',{points:`${x0},348 ${x0+25},343 ${x0+30},400 ${x0+5},403`,fill:'#f4e11a'},d);
 mk('rect',{x:x0+28,y:360,width:95,height:25,fill:'#d9a0a0',opacity:0.9},d);
 mk('rect',{x:x0+82,y:352,width:88,height:40,fill:'#7fa5dc',opacity:0.9},d);
 mk('polygon',{points:`${x0+163},348 ${x0+190},343 ${x0+192},405 ${x0+165},405`,fill:'#b0b0b0'},d);
 [0,1,2].forEach(k=>{mk('circle',{cx:x0+42+k*10,cy:368,r:3,fill:'#e8963a'},d);mk('circle',{cx:x0+46+k*10,cy:378,r:3,fill:'#e06050'},d);});
 [0,1,2,3].forEach(k=>{mk('circle',{cx:x0+120+k*10,cy:365+(k%2)*8,r:3,fill:'#5580d8'},d);mk('circle',{cx:x0+125+k*10,cy:383,r:3,fill:'#50b0a0'},d);});
 mk('path',{d:`M${x0+98},362 q-5,-5 0,-10 q5,-5 0,-10 q-5,-5 0,-10 q5,-5 0,-10`,fill:'none',stroke:i==2?'#d33':'#2244aa','stroke-width':1.5},d);
 mk('path',{d:`M${x0+85},362 q-5,-5 0,-10 q5,-5 0,-10 q-5,-5 0,-10 q5,-5 0,-10`,fill:'none',stroke:i==2?'#aabbee':'#eeaaaa','stroke-width':1.2},d);
 tx(x0+12,380,i==0?'Au':'',{'font-size':10},d);
 tx(x0+195,383,hLab[i],{'font-size':15,'font-weight':'bold'},d);
 if(i!=1){mk('line',{x1:x0+205,y1:i==0?395:345,x2:x0+205,y2:i==0?345:395,stroke:'#111','stroke-width':2},d);}
});
tx(1998,418,'MoS₂',{'font-size':10},g);
tx(2088,418,'WSe₂',{'font-size':10},g);
})();

// ---------- Figure 2 ----------
(function(){
const g=mk('g',{});


const X0=2367,X1=2685,Y0=536,Y1=1013;
const fx=e=>X0+(e-1.5)/0.3*(X1-X0);
const fy=v=>Y1-v*0.1537;
const ax=mk('rect',{x:X0,y:Y0,width:X1-X0,height:Y1-Y0,fill:'none',stroke:'#555'},g);


f2YTicks.forEach(v=>{mk('line',{x1:X0-4,y1:fy(v),x2:X0,y2:fy(v),stroke:'#333'},g);
 const t=tx(X0-6,fy(v)+4,String(v),{'font-size':11,'text-anchor':'end'},g);
 
 });
f2XTicks.forEach(v=>{mk('line',{x1:fx(v),y1:Y1,x2:fx(v),y2:Y1+4,stroke:'#333'},g);
 const t=tx(fx(v),Y1+17,v.toFixed(1),{'font-size':12,'text-anchor':'middle'},g);
 
 });
const xl=tx((X0+X1)/2,1042,'Energy (eV)',{'font-size':12,'text-anchor':'middle'},g);


const yl=tx(0,0,'EL intensity (a.u.)',{'font-size':12,'text-anchor':'middle',transform:'translate(2332,775) rotate(-90)'},g);


f2Fields.forEach((lab,i)=>{
 const off=f2Offsets[i];
 const minus=mk('polyline',{points:ptsOf(f2Energy,f2ProfileMinus.map(p=>off+p*f2PeakMinus[i]),fx,fy),fill:'none',stroke:'#e22','stroke-width':1.8},g);
 
 
 const plus=mk('polyline',{points:ptsOf(f2Energy,f2ProfilePlus.map(p=>off+p*f2PeakPlus[i]),fx,fy),fill:'none',stroke:'#2b4fa8','stroke-width':1.6},g);
 
 
 const t=tx(X1-6,fy(off)-9,lab,{'font-size':12,'text-anchor':'end'},g);
 
 
});
const lg=mk('g',{},g);


mk('line',{x1:2380,y1:550,x2:2402,y2:550,stroke:'#2b4fa8','stroke-width':2},lg);
tx(2407,555,'σ₊',{'font-size':12},lg);
mk('line',{x1:2380,y1:565,x2:2402,y2:565,stroke:'#e22','stroke-width':2},lg);
tx(2407,570,'σ₋',{'font-size':12},lg);
tx(2676,554,'I = 4.4 μA',{'font-size':12,'text-anchor':'end','font-style':'italic'},g);
tx(2672,568,'T = 4.2 K',{'font-size':12,'text-anchor':'end'},g);
})();

// ---------- Figure 4a ----------
(function(){
const g=mk('g',{});


const X0=2909,X1=3231,Y0=117,Y1=357;
const fx=b=>2924+(b+5)*29.2;
const fy=p=>237.3-p*4.79;
tx(2858,120,'a',{'font-size':14,'font-weight':'bold'},g);
const ax=mk('rect',{x:X0,y:Y0,width:X1-X0,height:Y1-Y0,fill:'none',stroke:'#444'},g);


f4aYTicks.forEach(v=>{mk('line',{x1:X0-4,y1:fy(v),x2:X0,y2:fy(v),stroke:'#333'},g);
 const t=tx(X0-6,fy(v)+4,String(v),{'font-size':11,'text-anchor':'end'},g);
 
 });
f4aXTicks.forEach(v=>{mk('line',{x1:fx(v),y1:Y1,x2:fx(v),y2:Y1+4,stroke:'#333'},g);
 const t=tx(fx(v),Y1+17,String(v),{'font-size':11,'text-anchor':'middle'},g);
 
 });
const xl=tx((X0+X1)/2,390,'Magnetic field (T)',{'font-size':12,'text-anchor':'middle'},g);


const yl=tx(0,0,'ΔPcirc (%)',{'font-size':12,'text-anchor':'middle',transform:'translate(2880,237) rotate(-90)'},g);


const d1=mk('polyline',{points:ptsOf(f4aFitField,f4aDashUpper,fx,fy),fill:'none',stroke:'#f4a0a0','stroke-width':1.5,'stroke-dasharray':'8,5'},g);


const d2=mk('polyline',{points:ptsOf(f4aFitField,f4aDashLower,fx,fy),fill:'none',stroke:'#f4a0a0','stroke-width':1.5,'stroke-dasharray':'8,5'},g);


[[f4aNonUpField,f4aNonUp],[f4aNonDownField,f4aNonDown]].forEach(s=>{
 const l=mk('polyline',{points:ptsOf(s[0],s[1],fx,fy),fill:'none',stroke:'#999','stroke-width':1.6},g);
 
 
 s[0].forEach((b,i)=>mk('rect',{x:fx(b)-3,y:fy(s[1][i])-3,width:6,height:6,fill:'#999'},g));
});
const fit=mk('polyline',{points:ptsOf(f4aFitField,f4aFit,fx,fy),fill:'none',stroke:'#111','stroke-width':2},g);


[[f4aMagUpField,f4aMagUp],[f4aMagDownField,f4aMagDown]].forEach(s=>{
 const l=mk('polyline',{points:ptsOf(s[0],s[1],fx,fy),fill:'none',stroke:'#e2262b','stroke-width':1.6},g);
 
 
 s[0].forEach((b,i)=>{const c=mk('circle',{cx:fx(b),cy:fy(s[1][i]),r:3.2,fill:'#e2262b'},g);
  
  });
});
[[0.8,15,2.4,21,'#e2262b'],[3.5,8,2.2,3,'#e2262b'],[-3.7,-11,-2.5,-6,'#e2262b'],[-1.4,-15,-2.6,-21,'#e2262b'],[-0.3,4.5,-1.8,3.5,'#999'],[-0.2,-6.5,1.5,-5.5,'#999']].forEach(a=>{
 mk('line',{x1:fx(a[0]),y1:fy(a[1]),x2:fx(a[2]),y2:fy(a[3]),stroke:a[4],'stroke-width':2},g);
 const ang=Math.atan2(fy(a[3])-fy(a[1]),fx(a[2])-fx(a[0]));
 const x=fx(a[2]),y=fy(a[3]);
 mk('polygon',{points:`${x},${y} ${x-9*Math.cos(ang-0.4)},${y-9*Math.sin(ang-0.4)} ${x-9*Math.cos(ang+0.4)},${y-9*Math.sin(ang+0.4)}`,fill:a[4]},g);
});
tx(3222,134,'Magnetic',{'font-size':13,'text-anchor':'end',fill:'#e2262b'},g);
tx(3220,262,'Non-magnetic',{'font-size':12,'text-anchor':'end',fill:'#999'},g);
tx(2918,237,'0.5 %/T',{'font-size':11},g);
})();

// ---------- Figure 4b ----------
(function(){
const g=mk('g',{});


const X0=3294,X1=3632,Y0=117,Y1=357;
const fx=b=>3325+(b+5)*29.3;
const fy=d=>Y1-(d+5)*16;
tx(3250,120,'b',{'font-size':14,'font-weight':'bold'},g);
const ax=mk('rect',{x:X0,y:Y0,width:X1-X0,height:Y1-Y0,fill:'none',stroke:'#444'},g);


f4bYTicks.forEach(v=>{mk('line',{x1:X0-4,y1:fy(v),x2:X0,y2:fy(v),stroke:'#333'},g);
 const t=tx(X0-6,fy(v)+4,String(v),{'font-size':11,'text-anchor':'end'},g);
 
 });
f4bXTicks.forEach(v=>{mk('line',{x1:fx(v),y1:Y1,x2:fx(v),y2:Y1+4,stroke:'#333'},g);
 const t=tx(fx(v),Y1+17,String(v),{'font-size':11,'text-anchor':'middle'},g);
 
 });
const xl=tx((X0+X1)/2,390,'Magnetic Field (T)',{'font-size':12,'text-anchor':'middle'},g);


const yl=tx(0,0,'ΔK-K′ (meV)',{'font-size':12,'text-anchor':'middle',transform:'translate(3280,237) rotate(-90)'},g);


[[f4bNonAField,f4bNonA],[f4bNonBField,f4bNonB],[f4bNonCField,f4bNonC]].forEach(s=>{
 const l=mk('polyline',{points:ptsOf(s[0],s[1],fx,fy),fill:'none',stroke:'#999','stroke-width':1.6},g);
 
 
 s[0].forEach((b,i)=>mk('rect',{x:fx(b)-3,y:fy(s[1][i])-3,width:6,height:6,fill:'#999'},g));
});
[[f4bMagAField,f4bMagA],[f4bMagBField,f4bMagB],[f4bMagCField,f4bMagC]].forEach(s=>{
 const l=mk('polyline',{points:ptsOf(s[0],s[1],fx,fy),fill:'none',stroke:'#1f8ac8','stroke-width':1.6},g);
 
 
 s[0].forEach((b,i)=>{const c=mk('circle',{cx:fx(b),cy:fy(s[1][i]),r:3,fill:'#1f8ac8'},g);
  
  });
});
const fit=mk('polyline',{points:ptsOf(f4bFitField,f4bFit,fx,fy),fill:'none',stroke:'#111','stroke-width':2},g);


[[-1.4,4.8,0.4,5.3,'#999'],[1.0,9.1,2.8,9.5,'#999'],[-0.4,2.6,-2.2,2.1,'#999'],[3.5,4.7,1.9,4.5,'#999'],[-3.2,-0.6,-1.6,0.1,'#1f8ac8'],[1.6,2.0,2.8,1.6,'#1f8ac8'],[-2.7,-2.8,-4.1,-3.6,'#1f8ac8'],[3.3,-0.8,2.3,-1.4,'#1f8ac8']].forEach(a=>{
 mk('line',{x1:fx(a[0]),y1:fy(a[1]),x2:fx(a[2]),y2:fy(a[3]),stroke:a[4],'stroke-width':2},g);
 const ang=Math.atan2(fy(a[3])-fy(a[1]),fx(a[2])-fx(a[0]));
 const x=fx(a[2]),y=fy(a[3]);
 mk('polygon',{points:`${x},${y} ${x-9*Math.cos(ang-0.4)},${y-9*Math.sin(ang-0.4)} ${x-9*Math.cos(ang+0.4)},${y-9*Math.sin(ang+0.4)}`,fill:a[4]},g);
});
tx(3318,215,'Non-magnetic',{'font-size':12,fill:'#999'},g);
tx(3320,296,'Magnetic',{'font-size':12,fill:'#1f8ac8'},g);
tx(3628,225,'0.47 meV/T',{'font-size':11,'text-anchor':'end'},g);
})();
</script>
</body></html>
